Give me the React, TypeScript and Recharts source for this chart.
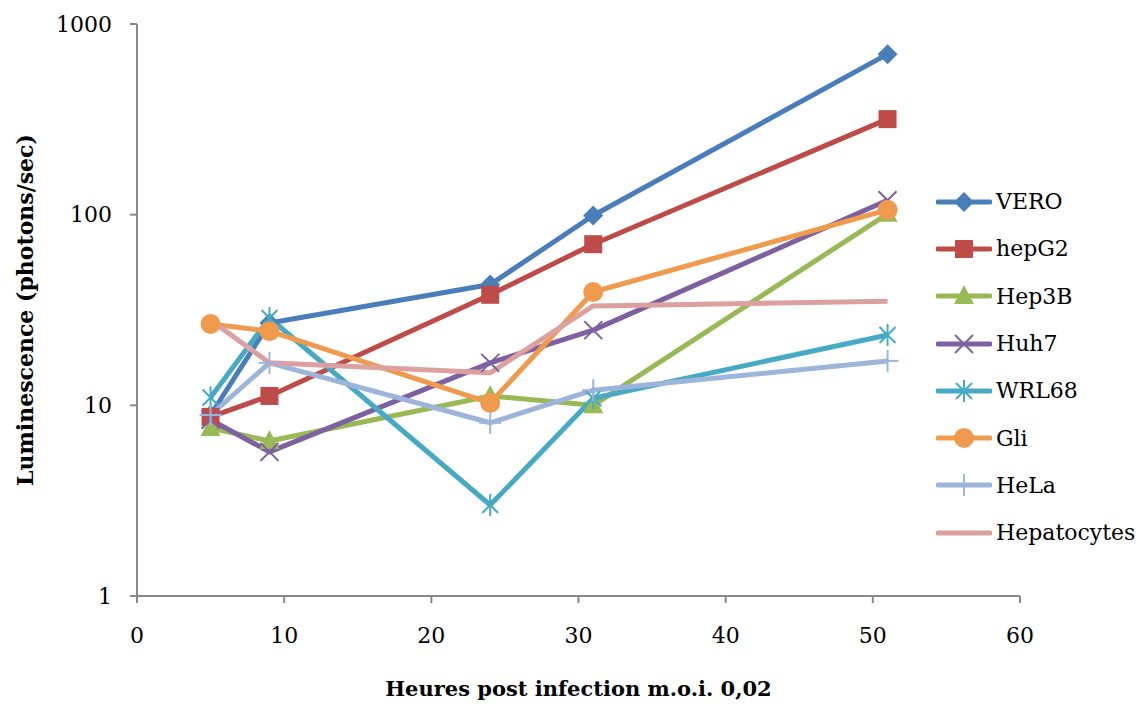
import React from 'react'
import { LineChart, Line, XAxis, YAxis, Legend } from 'recharts'

// hours post infection
const hours = [5, 9, 24, 31, 51]

// luminescence values (photons/sec)
const vero = [8.9, 27, 43, 99, 695]
const hepG2 = [8.7, 11.2, 38, 70, 317]
const hep3B = [7.6, 6.5, 11.2, 10, 101]
const huh7 = [8.4, 5.7, 16.7, 24.8, 119]
const wrl68 = [11, 28.7, 3, 10.9, 23.4]
const gli = [26.7, 24.5, 10.3, 39.3, 106]
const hela = [8.9, 16.7, 8.1, 12, 17.1]
const hepatocytes = [28, 16.7, 14.8, 33.2, 35.2]

const xTicks = [0, 10, 20, 30, 40, 50, 60]
const yTicks = [1, 10, 100, 1000]

const FONT = '"DejaVu Serif", serif'

type Marker = 'diamond' | 'square' | 'triangle' | 'x' | 'star' | 'circle' | 'plus' | 'none'

const seriesDefs: { key: string; name: string; color: string; marker: Marker; values: number[] }[] = [
  { key: 'vero', name: 'VERO', color: '#4A7EBB', marker: 'diamond', values: vero },
  { key: 'hepG2', name: 'hepG2', color: '#BE4B48', marker: 'square', values: hepG2 },
  { key: 'hep3B', name: 'Hep3B', color: '#98B954', marker: 'triangle', values: hep3B },
  { key: 'huh7', name: 'Huh7', color: '#7D60A0', marker: 'x', values: huh7 },
  { key: 'wrl68', name: 'WRL68', color: '#46AAC5', marker: 'star', values: wrl68 },
  { key: 'gli', name: 'Gli', color: '#F09A4E', marker: 'circle', values: gli },
  { key: 'hela', name: 'HeLa', color: '#9DB5DA', marker: 'plus', values: hela },
  { key: 'hepatocytes', name: 'Hepatocytes', color: '#DBA09F', marker: 'none', values: hepatocytes },
]

const data = hours.map((h, i) => {
  const row: Record<string, number> = { hour: h }
  seriesDefs.forEach(s => {
    row[s.key] = s.values[i]
  })
  return row
})

function MarkerShape({ cx, cy, marker, color }: { cx: number; cy: number; marker: Marker; color: string }) {
  if (cx == null || cy == null) return null
  switch (marker) {
    case 'diamond':
      return <path d={`M${cx},${cy - 10}L${cx + 10},${cy}L${cx},${cy + 10}L${cx - 10},${cy}Z`} fill={color} />
    case 'square':
      return <rect x={cx - 9} y={cy - 9} width={18} height={18} fill={color} />
    case 'triangle':
      return <path d={`M${cx},${cy - 11}L${cx + 10},${cy + 8}L${cx - 10},${cy + 8}Z`} fill={color} />
    case 'x':
      return (
        <g stroke={color} strokeWidth={2}>
          <line x1={cx - 9} y1={cy - 9} x2={cx + 9} y2={cy + 9} />
          <line x1={cx - 9} y1={cy + 9} x2={cx + 9} y2={cy - 9} />
        </g>
      )
    case 'star':
      return (
        <g stroke={color} strokeWidth={2}>
          <line x1={cx - 8} y1={cy - 8} x2={cx + 8} y2={cy + 8} />
          <line x1={cx - 8} y1={cy + 8} x2={cx + 8} y2={cy - 8} />
          <line x1={cx} y1={cy - 11} x2={cx} y2={cy + 11} />
        </g>
      )
    case 'circle':
      return <circle cx={cx} cy={cy} r={10} fill={color} />
    case 'plus':
      return (
        <g stroke={color} strokeWidth={2}>
          <line x1={cx} y1={cy - 11} x2={cx} y2={cy + 11} />
          <line x1={cx - 11} y1={cy} x2={cx + 11} y2={cy} />
        </g>
      )
    default:
      return null
  }
}

function LegendContent() {
  return (
    <div style={{ fontFamily: FONT, fontSize: 22, color: '#000' }}>
      {seriesDefs.map(s => (
        <div key={s.key} style={{ display: 'flex', alignItems: 'center', height: 47.3 }}>
          <svg width={56} height={30} style={{ display: 'block' }}>
            <line x1={2} y1={15} x2={54} y2={15} stroke={s.color} strokeWidth={5} strokeLinecap="round" />
            <MarkerShape cx={28} cy={15} marker={s.marker} color={s.color} />
          </svg>
          <span style={{ marginLeft: 4 }}>{s.name}</span>
        </div>
      ))}
    </div>
  )
}

export default function App() {
  return (
    <LineChart
      width={1128}
      height={696}
      data={data}
      margin={{ top: 16, right: 116, bottom: 0, left: 0 }}
      style={{ fontFamily: FONT }}
    >
      <XAxis
        dataKey="hour"
        type="number"
        domain={[0, 60]}
        ticks={xTicks}
        height={108}
        stroke="#898989"
        strokeWidth={2}
        tickSize={7}
        tickMargin={24}
        tick={{ fill: '#000', fontSize: 22, fontFamily: FONT }}
        label={{
          value: 'Heures post infection m.o.i. 0,02',
          position: 'insideBottom',
          offset: 8,
          fill: '#000',
          fontSize: 21,
          fontWeight: 'bold',
          fontFamily: FONT,
        }}
      />
      <YAxis
        scale="log"
        domain={[1, 1000]}
        ticks={yTicks}
        width={129}
        stroke="#898989"
        strokeWidth={2}
        tickSize={7}
        tickMargin={18}
        allowDataOverflow
        tick={{ fill: '#000', fontSize: 22, fontFamily: FONT }}
        label={{
          content: (props: any) => {
            const vb = props.viewBox || { x: 0, y: 0, width: 0, height: 0 }
            const x = vb.x + 17
            const y = vb.y + vb.height / 2
            return (
              <text
                x={x}
                y={y}
                transform={`rotate(-90, ${x}, ${y})`}
                textAnchor="middle"
                dominantBaseline="central"
                fontSize={22}
                fontWeight="bold"
                fontFamily={FONT}
                fill="#000"
              >
                Luminescence (photons/sec)
              </text>
            )
          },
        }}
      />
      <Legend
        layout="vertical"
        align="center"
        verticalAlign="middle"
        wrapperStyle={{ left: 928, top: 170, width: 200 }}
        content={() => <LegendContent />}
      />
      {seriesDefs.map(s => (
        <Line
          key={s.key}
          dataKey={s.key}
          name={s.name}
          stroke={s.color}
          strokeWidth={5}
          strokeLinejoin="round"
          isAnimationActive={false}
          dot={(p: any) => <MarkerShape key={`${s.key}-${p.index}`} cx={p.cx} cy={p.cy} marker={s.marker} color={s.color} />}
          activeDot={false}
        />
      ))}
    </LineChart>
  )
}
